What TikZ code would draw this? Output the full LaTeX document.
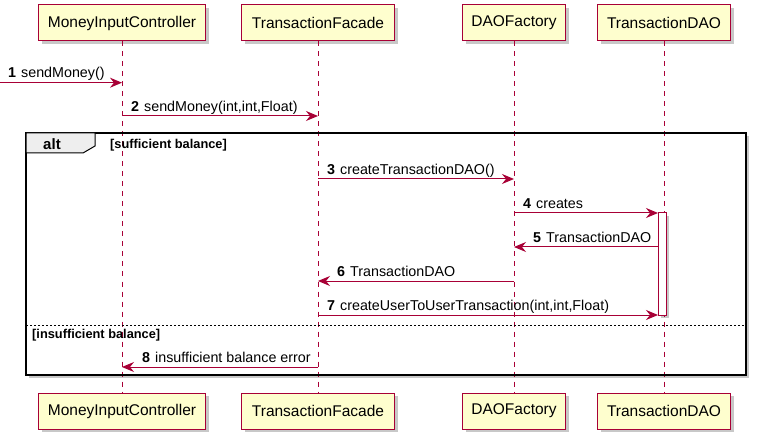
\documentclass[tikz,border=0pt]{standalone}
\usepackage{fontspec}
\setmainfont{Liberation Sans}
\usetikzlibrary{arrows.meta,shadows}
\definecolor{plred}{HTML}{A80036}
\definecolor{plfill}{HTML}{FEFECE}
\definecolor{plgray}{HTML}{EEEEEE}
\newcommand\mnum[1]{\textbf{#1}\hspace{5pt}}
\begin{document}
\begin{tikzpicture}[x=1pt,y=-1pt,
  shad/.style={drop shadow={shadow xshift=3pt,shadow yshift=-3pt,opacity=0.3,fill=black!70}},
  part/.style={draw=plred, fill=plfill, line width=1pt, minimum height=36pt, inner sep=0pt,
    font=\fontsize{15.5}{18}\selectfont, shad},
  lifeline/.style={draw=plred, line width=0.8pt, dash pattern=on 5pt off 5pt},
  msg/.style={draw=plred, line width=1pt, -{Stealth[length=12pt,width=10pt,inset=4pt]}},
  mtext/.style={anchor=base west, inner sep=0pt, font=\fontsize{14.3}{16}\selectfont},
  guard/.style={anchor=base west, inner sep=0pt, font=\fontsize{12.8}{14}\selectfont\bfseries},
  actbox/.style={draw=plred, fill=white, line width=1pt, minimum width=8pt, inner sep=0pt, shad}
]
\useasboundingbox[fill=white] (0,0) rectangle (759,443);

% frame background with shadow
\path[fill=white, shad] (26,133) rectangle (746,375);

% participants
\node[part, minimum width=167pt] (mic) at (122,23) {MoneyInputController};
\node[part, minimum width=153pt] (tf) at (318,23) {TransactionFacade};
\node[part, minimum width=103pt] (df) at (514,23) {DAOFactory};
\node[part, minimum width=133pt] (td) at (664,23) {TransactionDAO};
\node[part, minimum width=167pt] (micb) at (122,411) {MoneyInputController};
\node[part, minimum width=153pt] (tfb) at (318,411) {TransactionFacade};
\node[part, minimum width=103pt] (dfb) at (514,411) {DAOFactory};
\node[part, minimum width=133pt] (tdb) at (664,411) {TransactionDAO};

% lifelines
\draw[lifeline] (mic.south) -- (micb.north);
\draw[lifeline] (tf.south) -- (tfb.north);
\draw[lifeline] (df.south) -- (dfb.north);
\draw[lifeline] (td.south) -- (tdb.north);

% alt frame
\draw[line width=1.5pt] (26,133) rectangle (746,375);
\draw[fill=plgray, line width=1pt] (26,133) -- (95,133) -- (95,146) -- (83,153) -- (26,153) -- cycle;
\node[anchor=base, inner sep=0pt, font=\fontsize{15}{16}\selectfont\bfseries] (altlbl) at (52,150) {alt};
\node[guard] (g1) at (110,149) {[sufficient balance]};
\draw[line width=0.8pt, dash pattern=on 2pt off 2pt] (26,325) -- (746,325);
\node[guard] (g2) at (32,338.5) {[insufficient balance]};

% activation
\node[actbox, minimum height=102pt] (act) at (662,264) {};

% message endpoints
\coordinate (m1s) at (0,82.7);   \coordinate (m1e) at (122,82.7);
\coordinate (m2s) at (122,116);  \coordinate (m2e) at (318,116);
\coordinate (m3s) at (318,179);  \coordinate (m3e) at (514,179);
\coordinate (m4s) at (514,213);  \coordinate (m4e) at (658,213);
\coordinate (m5s) at (658,247);  \coordinate (m5e) at (514,247);
\coordinate (m6s) at (514,281);  \coordinate (m6e) at (318,281);
\coordinate (m7s) at (318,315);  \coordinate (m7e) at (658,315);
\coordinate (m8s) at (318,367);  \coordinate (m8e) at (122,367);

\draw[msg] (m1s) -- (m1e);
\draw[msg] (m2s) -- (m2e);
\draw[msg] (m3s) -- (m3e);
\draw[msg] (m4s) -- (m4e);
\draw[msg] (m5s) -- (m5e);
\draw[msg] (m6s) -- (m6e);
\draw[msg] (m7s) -- (m7e);
\draw[msg] (m8s) -- (m8e);

\node[mtext] (t1) at (8,78) {\mnum{1}sendMoney()};
\node[mtext] (t2) at (131,111.5) {\mnum{2}sendMoney(int,int,Float)};
\node[mtext] (t3) at (327,174.5) {\mnum{3}createTransactionDAO()};
\node[mtext] (t4) at (523,208.5) {\mnum{4}creates};
\node[mtext] (t5) at (533,242.5) {\mnum{5}TransactionDAO};
\node[mtext] (t6) at (337,276.5) {\mnum{6}TransactionDAO};
\node[mtext] (t7) at (327,310.5) {\mnum{7}createUserToUserTransaction(int,int,Float)};
\node[mtext] (t8) at (142,362.5) {\mnum{8}insufficient balance error};
\end{tikzpicture}
\end{document}
